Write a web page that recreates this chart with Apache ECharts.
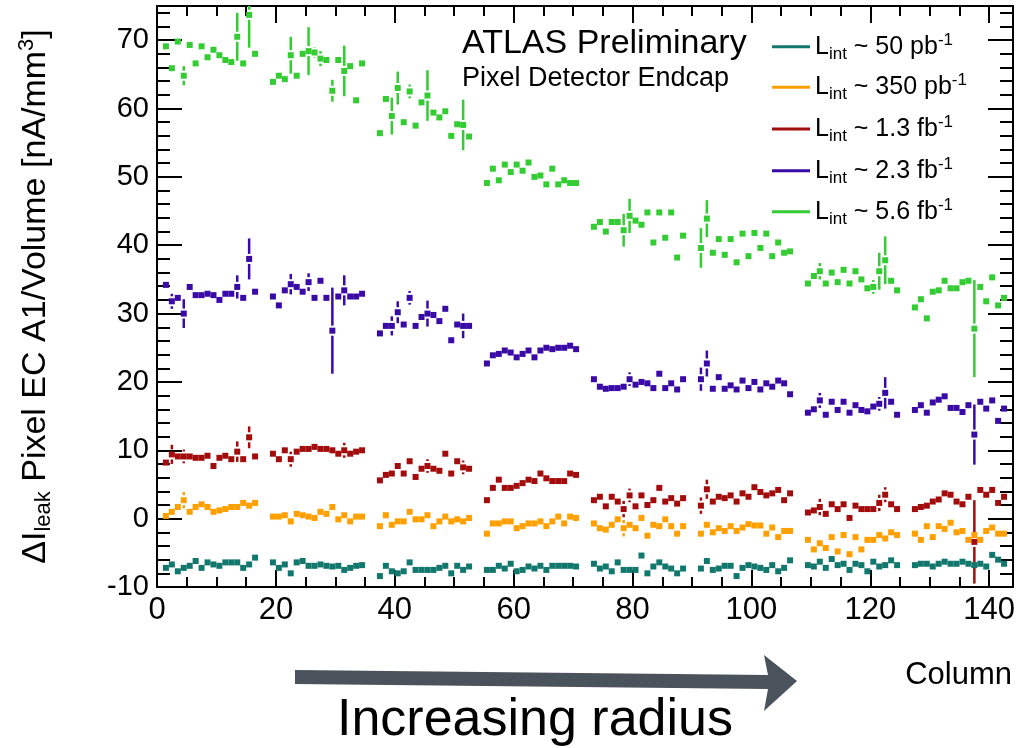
<!DOCTYPE html>
<html>
<head>
<meta charset="utf-8">
<script src="https://cdn.jsdelivr.net/npm/echarts@6/dist/echarts.min.js"></script>
<style>
  html, body {margin: 0; padding: 0; background: #fff;}
  #chart {width: 1026px; height: 748px;}
</style>
</head>
<body>
<div id="chart"></div>
<script>
// 8 front-end chips x 18 columns, the two edge columns of each chip are not shown
var chipStart = [1, 19, 37, 55, 73, 91, 109, 127];
var colsPerChip = 16;

var lumiValue = ['50', '350', '1.3', '2.3', '5.6'];
var lumiUnit = ['pb', 'pb', 'fb', 'fb', 'fb'];
var colors = ['#12786e', '#ffa000', '#a30c0c', '#3a0aa6', '#33cc33'];

// leakage current per volume, one value per plotted column
var lint50 = [
  -7.2, -6.7, -7.7, -7.2, -6.9, -6.2, -7.2, -6.4, -6.7, -6.9, -6.4, -6.4, -6.4, -7.2, -6.7, -5.7,
  -6.4, -7.2, -6.7, -8.0, -6.4, -6.2, -6.9, -6.9, -6.7, -6.9, -7.0, -6.9, -7.5, -7.2, -6.9, -6.8,
  -8.4, -6.9, -7.7, -8.0, -7.7, -6.4, -7.5, -7.5, -7.5, -7.5, -7.2, -6.9, -8.0, -6.9, -7.5, -7.0,
  -7.5, -7.5, -6.9, -7.3, -6.6, -7.7, -7.5, -7.0, -7.3, -6.9, -7.5, -6.9, -6.9, -6.9, -6.9, -7.0,
  -6.6, -7.3, -7.0, -7.7, -6.4, -7.5, -7.5, -7.5, -5.4, -8.0, -7.0, -6.4, -7.0, -7.3, -8.0, -7.3,
  -7.3, -6.2, -7.5, -7.3, -6.9, -6.9, -8.4, -7.2, -6.8, -7.0, -7.2, -7.5, -6.8, -7.7, -7.2, -6.1,
  -6.8, -7.0, -6.3, -7.2, -5.9, -6.8, -6.6, -7.5, -6.6, -6.8, -7.7, -6.3, -7.0, -6.8, -6.1, -6.8,
  -6.8, -6.6, -6.6, -7.0, -6.6, -6.3, -6.6, -6.6, -6.3, -6.6, -6.8, -6.6, -7.0, -5.3, -6.0, -6.6
];
var lint350 = [
  0.4, 1.0, 1.7, 2.7, 1.0, 1.7, 2.1, 1.7, 1.0, 1.2, 1.4, 1.7, 1.7, 2.3, 1.9, 2.3,
  0.3, 0.3, 0.5, -0.4, 0.7, 0.5, 0.3, 0.1, 1.0, 0.7, 1.7, -0.1, 0.5, -0.4, 0.3, 0.3,
  -1.1, 0.5, -0.9, -0.4, -0.4, 1.0, -0.1, -0.1, 0.5, -1.1, -0.4, 0.3, -0.4, -0.1, -0.4, 0.1,
  -2.2, -0.7, -0.7, -0.4, -0.4, -1.4, -1.1, -0.7, -0.7, -0.4, -1.1, -0.4, 0.3, -0.7, 0.3, 0.1,
  -0.7, -1.4, -1.6, -0.9, -0.1, -1.4, -0.9, -1.4, 0.1, -2.5, -0.9, -1.1, -0.1, -1.1, -2.2, -1.1,
  -2.2, -0.9, -2.0, -1.4, -1.8, -1.1, -1.8, -1.3, -0.8, -1.0, -1.0, -2.2, -1.3, -2.7, -1.8, -1.8,
  -3.1, -4.5, -3.6, -4.3, -2.7, -4.8, -2.4, -5.2, -2.7, -4.5, -3.1, -3.1, -2.4, -2.9, -2.0, -2.4,
  -2.2, -3.1, -1.1, -2.7, -1.1, -1.5, -0.6, -2.0, -1.8, -3.1, -2.4, -3.1, -1.8, -1.3, -2.2, -2.2
];
var lint1p3 = [
  8.2, 9.4, 9.1, 9.1, 9.1, 8.9, 8.9, 9.2, 7.7, 8.9, 9.2, 8.7, 9.8, 8.7, 11.9, 9.1,
  9.5, 8.7, 10.0, 8.7, 9.8, 10.2, 10.2, 10.5, 10.2, 10.2, 10.0, 9.5, 10.0, 9.5, 9.8, 10.0,
  5.6, 6.4, 6.6, 7.7, 6.6, 8.4, 6.1, 7.3, 7.7, 7.3, 7.0, 9.5, 6.6, 8.4, 7.5, 7.3,
  2.7, 4.5, 5.7, 4.5, 4.5, 4.8, 5.2, 5.7, 5.5, 6.6, 5.9, 5.5, 5.5, 5.5, 6.6, 6.4,
  2.7, 3.2, 1.8, 3.2, 2.5, 1.4, 3.4, 1.8, 3.4, 2.0, 2.7, 4.5, 2.5, 3.0, 2.2, 3.0,
  1.9, 4.3, 2.5, 3.2, 3.0, 3.4, 2.5, 3.7, 3.2, 4.6, 3.9, 3.4, 3.7, 4.2, 2.7, 3.7,
  0.9, 1.2, 1.7, 0.7, 2.1, 1.4, 2.1, 0.1, 1.9, 1.4, 1.4, 1.4, 2.3, 3.5, 2.1, 1.4,
  1.4, 1.7, 1.9, 2.5, 2.8, 3.7, 3.5, 2.5, 2.1, 3.2, -3.4, 4.2, 3.5, 4.2, 2.3, 3.2
];
var lint2p3 = [
  34.2, 31.8, 32.3, 30.0, 33.9, 32.7, 32.7, 32.9, 32.7, 32.0, 32.9, 32.9, 33.9, 32.3, 38.0, 33.2,
  32.5, 31.2, 33.4, 34.3, 33.9, 33.2, 34.6, 32.3, 34.8, 32.3, 27.5, 32.5, 33.4, 32.5, 32.5, 32.9,
  27.1, 28.2, 28.2, 30.2, 28.4, 32.3, 28.2, 29.5, 30.0, 29.8, 28.9, 30.7, 26.1, 28.4, 28.2, 28.2,
  22.7, 23.9, 24.1, 24.6, 24.3, 23.6, 24.1, 24.6, 23.6, 24.6, 25.0, 24.8, 25.0, 25.0, 25.3, 24.8,
  20.4, 19.3, 19.0, 19.1, 19.1, 19.3, 20.4, 19.6, 20.0, 19.8, 19.1, 21.2, 19.1, 19.8, 18.9, 20.4,
  20.4, 22.7, 19.0, 20.7, 19.0, 19.5, 18.9, 20.2, 19.1, 20.0, 18.9, 19.8, 19.3, 20.2, 19.8, 18.2,
  15.5, 16.0, 17.3, 15.2, 17.1, 15.9, 17.1, 15.5, 16.6, 15.9, 15.7, 16.4, 16.8, 18.4, 17.1, 15.2,
  15.9, 16.6, 15.5, 17.0, 17.4, 17.9, 16.2, 16.2, 15.6, 16.6, 12.3, 17.1, 16.1, 17.3, 14.3, 16.1
];
var lint5p6 = [
  69.1, 65.9, 69.8, 64.8, 69.3, 66.6, 69.1, 67.5, 68.6, 67.8, 67.1, 66.8, 70.5, 66.6, 73.7, 68.0,
  63.9, 64.8, 64.3, 67.8, 64.8, 68.0, 68.4, 68.2, 67.3, 67.1, 62.6, 67.1, 65.5, 66.2, 61.2, 66.6,
  56.4, 61.4, 58.9, 63.0, 58.0, 62.5, 57.5, 60.9, 61.9, 59.4, 58.7, 59.6, 56.0, 57.7, 57.6, 55.9,
  49.1, 51.2, 49.5, 51.8, 50.7, 51.8, 50.9, 52.1, 50.0, 50.2, 48.9, 51.2, 48.9, 49.5, 49.1, 49.1,
  42.7, 43.4, 42.0, 43.4, 43.4, 42.2, 44.3, 43.6, 43.0, 44.8, 40.4, 44.8, 41.1, 44.8, 38.2, 41.4,
  39.6, 43.9, 38.9, 40.9, 38.6, 40.9, 37.5, 41.7, 38.4, 41.8, 39.6, 41.7, 38.4, 40.4, 38.9, 39.1,
  34.4, 35.5, 36.2, 34.4, 36.0, 34.6, 36.4, 34.4, 36.2, 35.0, 33.7, 33.9, 36.2, 37.8, 34.8, 33.4,
  30.9, 32.1, 29.3, 33.2, 33.4, 34.8, 33.7, 33.7, 34.6, 34.8, 27.8, 33.9, 31.8, 35.3, 31.2, 32.3
];

// [column, error] for the points whose error bar sticks out of the marker
var err50 = [];
var err350 = [[4, 1.2], [78, 1.2]];
var err1p3 = [[2, 1.4], [4, 1.0], [13, 1.5], [15, 1.6], [22, 1.1], [31, 1.1], [45, 1.0], [51, 1.0],
  [78, 1.2], [79, 1.0], [91, 1.2], [92, 1.4], [111, 1.2], [121, 1.2], [122, 1.1], [137, 6.1]];
var err2p3 = [[2, 1.1], [4, 2.1], [13, 1.7], [15, 3.0], [22, 1.5], [25, 1.3], [29, 6.3], [31, 2.2],
  [39, 1.4], [40, 1.6], [42, 1.0], [45, 1.9], [51, 1.8], [79, 1.0], [91, 1.7], [92, 1.9],
  [111, 1.1], [121, 1.0], [122, 2.3], [137, 4.4]];
var err5p6 = [[4, 1.4], [13, 3.5], [15, 4.8], [22, 2.7], [25, 3.5], [26, 0.8], [27, 1.1], [29, 1.6],
  [31, 3.7], [39, 2.7], [40, 2.4], [42, 1.0], [45, 3.7], [51, 3.7], [78, 2.4], [79, 2.5],
  [91, 2.9], [92, 2.7], [111, 1.2], [120, 1.0], [121, 2.7], [122, 3.5], [137, 7.1]];

var allValues = [lint50, lint350, lint1p3, lint2p3, lint5p6];
var allErrors = [err50, err350, err1p3, err2p3, err5p6];

var FONT = 'Liberation Sans, Arial, Helvetica, sans-serif';
var Y_MIN = -10, Y_MAX = 75;

var columns = [];
chipStart.forEach(function (s) {
  for (var i = 0; i < colsPerChip; i++) columns.push(s + i);
});

var names = lumiValue.map(function (v, i) {
  return 'Lint ~ ' + v + ' ' + lumiUnit[i] + '-1';
});

function errorBars(color) {
  return function (params, api) {
    var x = api.value(0), y = api.value(1), e = api.value(2);
    var c = api.coord([x, y]);
    var top = api.coord([x, Math.min(y + e, Y_MAX)]);
    var bot = api.coord([x, Math.max(y - e, Y_MIN)]);
    var gap = 5;
    var st = {stroke: color, lineWidth: 2.5};
    var kids = [];
    if (c[1] - top[1] > gap) {
      kids.push({type: 'line', shape: {x1: c[0], y1: top[1], x2: c[0], y2: c[1] - gap}, style: st});
    }
    if (bot[1] - c[1] > gap) {
      kids.push({type: 'line', shape: {x1: c[0], y1: c[1] + gap, x2: c[0], y2: bot[1]}, style: st});
    }
    return {type: 'group', children: kids};
  };
}

var series = [];
allValues.forEach(function (vals, k) {
  series.push({
    name: names[k],
    type: 'scatter',
    symbol: 'rect',
    symbolSize: 6,
    itemStyle: {color: colors[k], opacity: 1},
    data: vals.map(function (v, i) { return [columns[i] + 0.5, v]; }),
    z: 3
  });
  series.push({
    type: 'custom',
    silent: true,
    renderItem: errorBars(colors[k]),
    data: allErrors[k].map(function (p) {
      return [p[0] + 0.5, vals[columns.indexOf(p[0])], p[1]];
    }),
    z: 3
  });
});

var legendRows = [47.7, 88.3, 130, 171.7, 212.7];
var legends = names.map(function (n, i) {
  return {
    data: [n],
    left: 772,
    top: legendRows[i] - 16,
    padding: 0,
    icon: 'rect',
    itemWidth: 38,
    itemHeight: 3,
    selectedMode: false,
    formatter: function () {
      return '{m|L}{s|int}{m| ~ ' + lumiValue[i] + ' ' + lumiUnit[i] + '}{p|-1}';
    },
    textStyle: {
      color: '#000',
      fontFamily: FONT,
      rich: {
        m: {fontSize: 25, fontFamily: FONT, color: '#000'},
        s: {fontSize: 17, fontFamily: FONT, color: '#000', padding: [15, 0, 0, 0]},
        p: {fontSize: 17, fontFamily: FONT, color: '#000', padding: [0, 0, 13, 0]}
      }
    }
  };
});

var lineBlack = {color: '#000', width: 2};

function xAx(pos, interval, len, main) {
  return {
    type: 'value', min: 0, max: 144, interval: interval, position: pos,
    axisLine: {show: main, onZero: false, lineStyle: lineBlack},
    axisTick: {show: true, inside: true, length: len, lineStyle: lineBlack},
    axisLabel: {
      show: main && pos === 'bottom', color: '#000', fontSize: 31, fontFamily: FONT,
      margin: 8, showMaxLabel: false
    },
    splitLine: {show: false}
  };
}
function yAx(pos, interval, len, main) {
  return {
    type: 'value', min: Y_MIN, max: Y_MAX, interval: interval, position: pos,
    axisLine: {show: main, onZero: false, lineStyle: lineBlack},
    axisTick: {show: true, inside: true, length: len, lineStyle: lineBlack},
    axisLabel: {
      show: main && pos === 'left', color: '#000', fontSize: 29, fontFamily: FONT,
      margin: 8, showMaxLabel: false
    },
    splitLine: {show: false}
  };
}

var yLeft = yAx('left', 10, 25, true);
yLeft.name = '{m|ΔI}{s|leak}{m| Pixel EC A1/Volume [nA/mm}{p|3}{m|]}';
yLeft.nameLocation = 'middle';
yLeft.nameRotate = 90;
yLeft.nameGap = 102;
yLeft.nameTextStyle = {
  color: '#000',
  fontFamily: FONT,
  rich: {
    m: {fontSize: 34, fontFamily: FONT, color: '#000'},
    s: {fontSize: 22, fontFamily: FONT, color: '#000', padding: [17, 0, 0, 0]},
    p: {fontSize: 22, fontFamily: FONT, color: '#000', padding: [0, 0, 17, 0]}
  }
};

var chart = echarts.init(document.getElementById('chart'));
chart.setOption({
  animation: false,
  backgroundColor: '#fff',
  grid: {left: 157, right: 13, top: 6, bottom: 161, containLabel: false},
  xAxis: [xAx('bottom', 20, 17, true), xAx('bottom', 5, 10, false),
          xAx('top', 20, 17, true), xAx('top', 5, 10, false)],
  yAxis: [yLeft, yAx('left', 2, 13, false),
          yAx('right', 10, 25, true), yAx('right', 2, 13, false)],
  legend: legends,
  series: series,
  graphic: [
    {
      type: 'text',
      style: {text: 'ATLAS Preliminary', x: 462, y: 44, font: '34px ' + FONT, fill: '#000',
              textAlign: 'left', textVerticalAlign: 'middle'}
    },
    {
      type: 'text',
      style: {text: 'Pixel Detector Endcap', x: 462, y: 79, font: '27px ' + FONT, fill: '#000',
              textAlign: 'left', textVerticalAlign: 'middle'}
    },
    {
      type: 'text',
      style: {text: 'Column', x: 1012, y: 675, font: '31px ' + FONT, fill: '#000',
              textAlign: 'right', textVerticalAlign: 'middle'}
    },
    {
      type: 'polygon',
      shape: {points: [[295, 670], [768, 675], [764, 655], [797, 681], [764, 711], [768, 689], [295, 684]]},
      style: {fill: '#4a525c'}
    },
    {
      type: 'text',
      style: {text: 'Increasing radius', x: 535, y: 721, font: '52px ' + FONT, fill: '#000',
              textAlign: 'center', textVerticalAlign: 'middle'}
    }
  ]
});
</script>
</body>
</html>
